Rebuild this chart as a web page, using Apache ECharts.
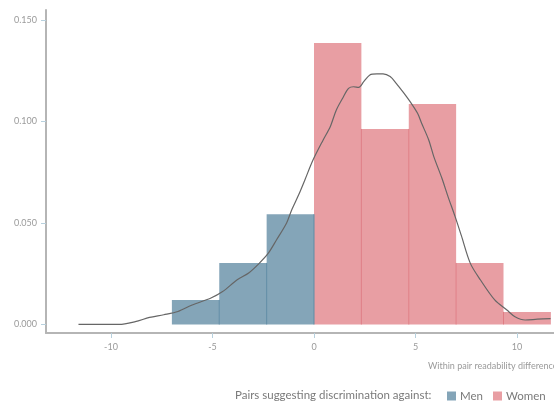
<!DOCTYPE html>
<html>
<head>
<meta charset="utf-8">
<script src="https://cdn.jsdelivr.net/npm/echarts@6/dist/echarts.min.js"></script>
<style>html,body{margin:0;padding:0;background:#fff;}#c{width:554px;height:402px;}</style>
</head>
<body>
<div id="c"></div>
<script>
// Histogram bins (x = within pair readability difference)
const binEdges = [-7, -4.667, -2.333, 0, 2.333, 4.667, 7, 9.333, 11.667];
const binDensity = [0.0121, 0.0303, 0.0543, 0.1387, 0.0963, 0.1086, 0.0303, 0.0062];
const binGroup = ['Men', 'Men', 'Men', 'Women', 'Women', 'Women', 'Women', 'Women'];
// Density curve
const densX = [-11.6, -9.6, -8.8, -8.1, -7.4, -6.7, -6.0, -5.1, -4.5, -3.8, -3.2, -2.7, -2.25, -1.85, -1.35, -1.1, -0.75, -0.45, -0.05, 0.45, 0.8, 1.1, 1.45, 1.7, 1.95, 2.2, 2.45, 2.75, 3.1, 3.4, 3.75, 4.05, 4.4, 4.75, 5.1, 5.3, 5.65, 5.9, 6.3, 6.6, 6.95, 7.25, 7.7, 8.2, 8.9, 9.5, 9.9, 10.4, 11.0, 11.65];
const densY = [0, 0, 0.0014, 0.0035, 0.0048, 0.0064, 0.0096, 0.0129, 0.0162, 0.0219, 0.0255, 0.0301, 0.0351, 0.0416, 0.0500, 0.0564, 0.0640, 0.0712, 0.0810, 0.0909, 0.0974, 0.1057, 0.1122, 0.1163, 0.1171, 0.1168, 0.1196, 0.1229, 0.1234, 0.1234, 0.1221, 0.1188, 0.1143, 0.1095, 0.1040, 0.0991, 0.0909, 0.0827, 0.0720, 0.0630, 0.0531, 0.0440, 0.0301, 0.0219, 0.0121, 0.0071, 0.0038, 0.0022, 0.0026, 0.0029];
// Tick labels
const xTicks = [-10, -5, 0, 5, 10];
const yTicks = [0, 0.05, 0.10, 0.15];
const groups = ['Men', 'Women'];

const fillColor = { Men: '#84a5b8', Women: '#e89ea3' };
const edgeColor = { Men: '#5f8ba5', Women: '#df7d84' };
const FONT = 'Lato';

function binData(g) {
  const out = [];
  for (let i = 0; i < binDensity.length; i++) {
    if (binGroup[i] === g) out.push([binEdges[i], binEdges[i + 1], binDensity[i], i]);
  }
  return out;
}

function renderBin(params, api) {
  const x0 = api.value(0), x1 = api.value(1), h = api.value(2), i = api.value(3);
  const g = binGroup[i];
  const p0 = api.coord([x0, h]);
  const p1 = api.coord([x1, 0]);
  const children = [{
    type: 'rect',
    shape: { x: p0[0], y: p0[1], width: p1[0] - p0[0], height: p1[1] - p0[1] },
    style: { fill: fillColor[g] }
  }];
  if (i < binDensity.length - 1) {
    const hm = Math.min(h, binDensity[i + 1]);
    const t = api.coord([x1, hm]);
    children.push({
      type: 'line',
      shape: { x1: p1[0], y1: t[1], x2: p1[0], y2: p1[1] },
      style: { stroke: edgeColor[g], lineWidth: 1 },
      z2: 5
    });
  }
  return { type: 'group', children: children };
}

const chart = echarts.init(document.getElementById('c'), null, { renderer: 'canvas' });
chart.setOption({
  animation: false,
  backgroundColor: '#fff',
  textStyle: { fontFamily: FONT },
  grid: { left: 46, right: 0, top: 10, bottom: 69, containLabel: false, outerBoundsMode: 'none' },
  title: {
    text: 'Pairs suggesting discrimination against:',
    left: 230, top: 384,
    textStyle: { fontFamily: FONT, fontSize: 11.5, fontWeight: 'normal', color: '#7a7a7a' }
  },
  legend: {
    data: groups,
    left: 442, top: 385,
    icon: 'rect', itemWidth: 9, itemHeight: 9, itemGap: 10,
    textStyle: { fontFamily: FONT, fontSize: 11.5, color: '#7a7a7a', padding: [0, 0, 0, -1] }
  },
  xAxis: {
    type: 'value',
    min: -13.2, max: 11.82,
    name: 'Within pair readability difference',
    nameLocation: 'end', nameGap: 0,
    nameTextStyle: { fontFamily: FONT, fontSize: 9, color: '#9a9a9a', align: 'left', verticalAlign: 'top', padding: [29, 0, 0, -126] },
    axisLine: { onZero: false, lineStyle: { color: '#b5b5b5', width: 2 } },
    axisTick: { show: true, length: 5, customValues: xTicks, lineStyle: { color: '#b7d0dd' } },
    axisLabel: { customValues: xTicks, margin: 10, fontSize: 9, color: '#9a9a9a', fontFamily: FONT },
    splitLine: { show: false }
  },
  yAxis: {
    type: 'value',
    min: -0.0042, max: 0.1549,
    axisLine: { show: true, onZero: false, lineStyle: { color: '#b5b5b5', width: 2 } },
    axisTick: { show: true, length: 5, customValues: yTicks, lineStyle: { color: '#b7d0dd' } },
    axisLabel: { customValues: yTicks, margin: 9, fontSize: 9, color: '#9a9a9a', fontFamily: FONT,
      formatter: v => v.toFixed(3) },
    splitLine: { show: false }
  },
  series: [
    {
      name: 'Men', type: 'custom', renderItem: renderBin,
      itemStyle: { color: fillColor.Men },
      encode: { x: [0, 1], y: 2 },
      data: binData('Men'), z: 2
    },
    {
      name: 'Women', type: 'custom', renderItem: renderBin,
      itemStyle: { color: fillColor.Women },
      encode: { x: [0, 1], y: 2 },
      data: binData('Women'), z: 2
    },
    {
      name: 'density', type: 'line', showSymbol: false, symbol: 'none', smooth: 0.3,
      lineStyle: { color: '#666', width: 1.2 },
      data: densX.map((x, i) => [x, densY[i]]), z: 5
    }
  ]
});
</script>
</body>
</html>
